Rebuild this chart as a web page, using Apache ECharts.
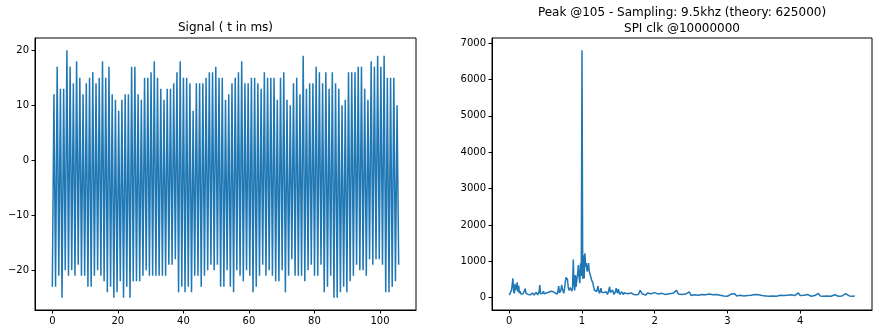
<!DOCTYPE html>
<html><head><meta charset="utf-8">
<script src="https://cdn.jsdelivr.net/npm/echarts@6/dist/echarts.min.js"></script>
<style>html,body{margin:0;padding:0;background:#fff}#c{width:882px;height:334px}</style>
</head><body><div id="c"></div>
<script>
// ---- Left plot: signal (peaks and troughs of each oscillation, in order) ----
const signalPeaks = [
  12,17,13,13,20,17,14,18,15,12,14,15,16,14,15,18,15,17,12,11,9,11,12,12,17,17,12,11,15,15,16,18,15,13,
  11,13,13,14,16,18,15,15,14,9,14,14,14,15,16,16,17,15,15,11,12,14,15,16,18,14,14,15,15,14,13,16,15,
  15,15,11,15,16,11,10,14,15,12,19,13,14,14,17,16,14,16,13,16,14,13,10,11,16,16,16,17,17,13,11,18,17,19,17,19,
  15,15,15,10
];
const signalTroughs = [
  -23,-23,-21,-25,-20,-21,-20,-21,-19,-21,-21,-23,-23,-21,-20,-21,-22,-24,-23,-25,-24,-22,-25,-23,-25,-22,-22,-22,-21,-20,-21,-21,-21,-21,
  -21,-21,-19,-19,-18,-24,-23,-24,-23,-24,-21,-21,-23,-21,-20,-19,-20,-19,-23,-23,-20,-23,-24,-20,-21,-22,-20,-21,-24,-23,-21,-19,-21,
  -20,-21,-22,-22,-20,-24,-21,-18,-21,-21,-21,-22,-20,-19,-21,-21,-19,-24,-23,-21,-25,-25,-24,-23,-24,-22,-21,-19,-20,-20,-21,-18,-19,-18,-18,-19,
  -24,-24,-23,-22,-19
];
const signalDurationMs = 105.7;
const signalTicks = [0,20,40,60,80,100];
const signalYTicks = [-20,-10,0,10,20];

// ---- Right plot: spectrum ----
// 0.00 .. 1.60 (kHz), step 0.01
const spectrumLow = [
  70,90,110,200,350,530,180,120,380,200,
  300,420,160,330,120,180,100,130,90,110,
  140,100,250,120,80,110,90,120,100,80,
  110,90,130,100,70,110,90,150,100,80,
  120,160,350,110,90,150,120,180,110,140,
  100,130,170,120,150,110,140,180,150,200,
  170,150,190,130,110,150,100,200,320,130,
  110,200,350,250,180,120,250,420,560,520,
  500,300,200,160,280,230,180,250,1050,400,
  200,620,300,500,650,900,580,400,950,600,
  6800,520,1170,530,1220,850,950,720,780,950,
  720,650,580,500,450,400,300,210,160,200,
  170,240,320,180,120,180,260,150,120,190,
  140,90,130,165,120,90,150,200,300,140,
  100,130,210,150,90,75,160,260,180,120,
  230,170,90,140,100,165,120,80,140,100,
  90
];
const lowStart = 0, lowStep = 0.01;
// 1.625 .. 4.75 (kHz), step 0.025
const spectrumHigh = [
  110,60,130,150,80,120,90,200,110,160,
  70,130,90,110,60,140,90,100,70,120,
  80,90,60,110,80,120,70,200,100,50,
  90,60,100,70,160,60,40,80,50,70,
  40,90,60,80,50,100,60,80,40,90,
  120,70,100,50,80,40,70,100,60,110,
  50,90,70,100,50,80,60,40,70,50,
  90,60,80,100,60,80,50,70,40,60,
  50,80,40,60,70,40,60,50,70,40,
  80,100,60,90,130,60,40,70,50,90,
  60,40,70,60,110,120,50,70,40,60,
  50,70,40,60,80,50,40,60,50,70,
  110,60,50,80,40,50
];
const highStart = 1.625, highStep = 0.025;
const spectrumXTicks = [0,1,2,3,4];
const spectrumYTicks = [0,1000,2000,3000,4000,5000,6000,7000];

const leftTitle = 'Signal ( t in ms)';
const rightTitle1 = 'Peak @105 - Sampling: 9.5khz (theory: 625000)';
const rightTitle2 = 'SPI clk @10000000';

// ---- build series data ----
const signalData = [];
const nSeg = signalPeaks.length * 2;
for (let k = 0; k <= nSeg; k++) {
  const v = (k % 2 === 0) ? signalTroughs[k / 2] : signalPeaks[(k - 1) / 2];
  signalData.push([k * signalDurationMs / nSeg, v]);
}
const spectrumData = [];
spectrumLow.forEach((v, i) => spectrumData.push([+(lowStart + i * lowStep).toFixed(4), v]));
spectrumHigh.forEach((v, i) => spectrumData.push([+(highStart + i * highStep).toFixed(4), v]));

const FONT = 'DejaVu Sans';
const fmt = v => String(v).replace('-', '\u2212');
function axis(gridIndex, min, max, ticks) {
  return {
    type: 'value', gridIndex, min, max,
    axisLine: { show: true, onZero: false, lineStyle: { color: '#000', width: 1 } },
    axisTick: { show: true, inside: false, length: 3.5, lineStyle: { color: '#000', width: 1 }, customValues: ticks },
    axisLabel: { show: true, color: '#000', fontSize: 10, fontFamily: FONT, margin: 6, customValues: ticks, formatter: fmt },
    splitLine: { show: false }
  };
}
const sMin = -25, sMax = 20, sPad = (sMax - sMin) * 0.05;
const tPad = signalDurationMs * 0.05;
const fMax = 4.75, fPad = fMax * 0.05;
const mMin = 2, mMax = 6800, mPad = (mMax - mMin) * 0.05;

const chart = echarts.init(document.getElementById('c'), null, { renderer: 'canvas' });
chart.setOption({
  animation: false,
  backgroundColor: '#fff',
  grid: [
    { left: 35, top: 38, width: 381, height: 272, show: true, borderColor: '#000', borderWidth: 1, backgroundColor: 'transparent' },
    { left: 492, top: 38, width: 380, height: 272, show: true, borderColor: '#000', borderWidth: 1, backgroundColor: 'transparent' }
  ],
  xAxis: [
    axis(0, -tPad, signalDurationMs + tPad, signalTicks),
    axis(1, -fPad, fMax + fPad, spectrumXTicks)
  ],
  yAxis: [
    axis(0, sMin - sPad, sMax + sPad, signalYTicks),
    axis(1, mMin - mPad, mMax + mPad, spectrumYTicks)
  ],
  series: [
    { type: 'line', xAxisIndex: 0, yAxisIndex: 0, data: signalData, showSymbol: false, symbol: 'none',
      lineStyle: { color: '#1f77b4', width: 1.5 }, silent: true },
    { type: 'line', xAxisIndex: 1, yAxisIndex: 1, data: spectrumData, showSymbol: false, symbol: 'none',
      lineStyle: { color: '#1f77b4', width: 1.5 }, silent: true }
  ],
  graphic: [
    { type: 'text', x: 225.5, y: 27.5, style: { text: leftTitle, fill: '#000', font: '12px "DejaVu Sans"', textAlign: 'center', textVerticalAlign: 'middle' } },
    { type: 'text', x: 682, y: 12.5, style: { text: rightTitle1, fill: '#000', font: '12px "DejaVu Sans"', textAlign: 'center', textVerticalAlign: 'middle' } },
    { type: 'text', x: 682, y: 28.5, style: { text: rightTitle2, fill: '#000', font: '12px "DejaVu Sans"', textAlign: 'center', textVerticalAlign: 'middle' } }
  ]
});
</script>
</body></html>
